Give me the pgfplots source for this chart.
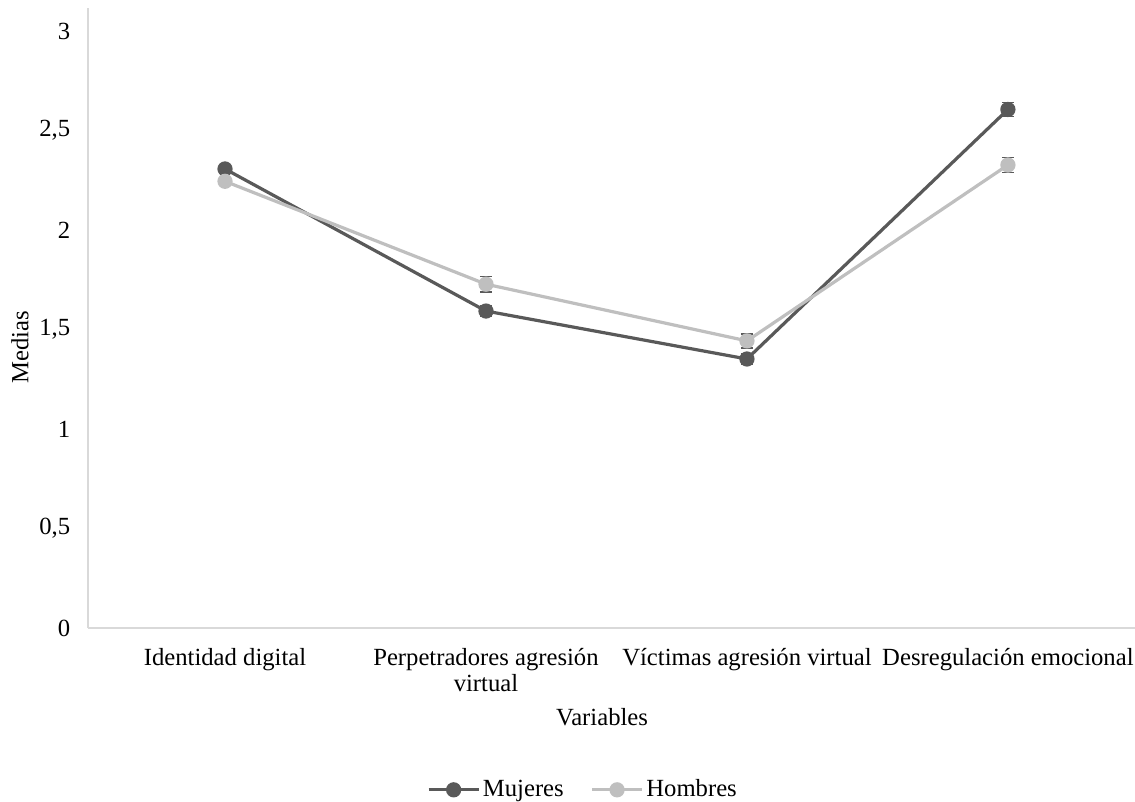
\documentclass[border=0pt]{standalone}
\usepackage{pgfplots}
\pgfplotsset{compat=1.18}
\usepackage{fontspec}
\setmainfont{Liberation Serif}
\definecolor{dark}{HTML}{595959}
\definecolor{light}{HTML}{BFBFBF}
\definecolor{axisgray}{HTML}{D9D9D9}
\begin{document}
\fontsize{18.5}{19.5}\selectfont
\begin{tikzpicture}
\useasboundingbox (-66pt,-129.75pt) rectangle (785.25pt,471pt);
\begin{axis}[
  at={(0,0)}, anchor=south west,
  scale only axis, width=785.25pt, height=465pt,
  xmin=-0.525, xmax=3.487, ymin=0, ymax=3.116,
  axis x line=bottom, axis y line=left,
  axis line style={axisgray, line width=1.2pt, -},
  xtick={0,1,2,3},
  xticklabels={Identidad digital, Perpetradores agresión\\virtual, Víctimas agresión virtual, Desregulación emocional},
  xticklabel style={align=center, anchor=north, yshift=-9pt, font=\fontsize{18.5}{19.5}\selectfont},
  ytick={0,0.5,1,1.5,2,2.5,3},
  yticklabel style={anchor=east, xshift=-7pt, font=\fontsize{18.5}{19.5}\selectfont},
  /pgf/number format/.cd, fixed, precision=1, use comma, assume math mode=true,
  /pgfplots/.cd,
  major tick length=0pt,
  xlabel={Variables}, ylabel={Medias},
  xlabel style={at={(axis description cs:0.491,-0.1435)}, anchor=center, font=\fontsize{18.5}{19.5}\selectfont},
  ylabel style={at={(axis description cs:-0.065,0.453)}, anchor=center, font=\fontsize{18.5}{19.5}\selectfont},
  legend columns=2,
  legend style={draw=none, at={(axis description cs:0.473,-0.261)}, anchor=center, font=\fontsize{18.5}{19.5}\selectfont, /tikz/every even column/.append style={column sep=18pt}},
  legend image code/.code={\draw[mark repeat=2,mark phase=2,#1] plot coordinates {(0cm,0cm)(0.66cm,0cm)(1.32cm,0cm)};},
  clip=false,
]
\addplot[dark, line width=2.4pt, mark=*, mark size=4.5pt, mark options={dark},
  error bars/.cd, y dir=both, y explicit,
  error bar style={dark, line width=1pt},
  error mark options={rotate=90, mark size=4.5pt, line width=1.2pt, dark}]
  table[x=x, y=y, y error=e] {
x y e
0 2.307 0.02
1 1.593 0.025
2 1.352 0.025
3 2.606 0.035
};
\addlegendentry{Mujeres}
\addplot[light, line width=2.4pt, mark=*, mark size=4.5pt, mark options={light},
  error bars/.cd, y dir=both, y explicit,
  error bar style={dark, line width=1pt},
  error mark options={rotate=90, mark size=4.5pt, line width=1.2pt, dark}]
  table[x=x, y=y, y error=e] {
x y e
0 2.245 0.02
1 1.728 0.038
2 1.443 0.036
3 2.327 0.038
};
\addlegendentry{Hombres}
\end{axis}
\end{tikzpicture}
\end{document}
